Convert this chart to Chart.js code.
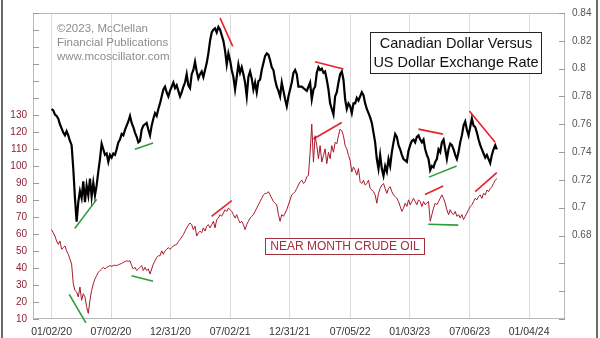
<!DOCTYPE html>
<html>
<head>
<meta charset="utf-8">
<script src="https://cdn.jsdelivr.net/npm/chart.js@4"></script>
<style>
    body { margin: 0; background: #fff; }
    canvas { display: block; }
</style>
</head>
<body>
<canvas id="chart" width="600" height="338"></canvas>
<script>
// dates on the x axis are counted in days after 01/02/20
const tickLabels = ['01/02/20', '07/02/20', '12/31/20', '07/02/21', '12/31/21', '07/05/22', '01/03/23', '07/06/23', '01/04/24'];
const seriesStartDay = 0;
const stepDays = 5.11; // spacing of the samples below

// CAD in USD (right axis)
const cadValues = [
    0.771, 0.770, 0.767, 0.766, 0.764, 0.760, 0.757, 0.754, 0.752, 0.755,
    0.752, 0.748, 0.745, 0.728, 0.707, 0.690, 0.704, 0.712, 0.707, 0.719,
    0.704, 0.716, 0.709, 0.721, 0.708, 0.718, 0.709, 0.716, 0.726, 0.735,
    0.746, 0.742, 0.738, 0.739, 0.733, 0.738, 0.736, 0.739, 0.738, 0.742,
    0.747, 0.749, 0.753, 0.752, 0.756, 0.759, 0.762, 0.766, 0.761, 0.758,
    0.754, 0.751, 0.747, 0.748, 0.756, 0.759, 0.760, 0.761, 0.756, 0.752,
    0.759, 0.764, 0.768, 0.766, 0.771, 0.775, 0.780, 0.785, 0.787, 0.783,
    0.780,
    0.784, 0.787, 0.790, 0.786, 0.788, 0.784, 0.780, 0.783, 0.787, 0.790,
    0.796, 0.788, 0.786, 0.796, 0.799, 0.805, 0.798, 0.793, 0.796, 0.798,
    0.794, 0.799, 0.804, 0.811, 0.820, 0.826, 0.828, 0.829, 0.826, 0.830,
    0.828, 0.824, 0.820, 0.813, 0.803, 0.811, 0.806, 0.799, 0.794, 0.785,
    0.794, 0.803, 0.797, 0.801, 0.796, 0.790, 0.780, 0.794, 0.798, 0.793,
    0.785, 0.790, 0.783, 0.791, 0.792, 0.799, 0.804, 0.809, 0.811, 0.810,
    0.806, 0.801, 0.799, 0.792, 0.787, 0.784, 0.780, 0.790, 0.784, 0.778,
    0.773, 0.780, 0.785, 0.790, 0.797, 0.799, 0.796, 0.787,
    0.787, 0.787, 0.786, 0.785, 0.784, 0.787, 0.790, 0.778, 0.785, 0.787,
    0.797, 0.801, 0.799, 0.800, 0.797, 0.798, 0.792, 0.785, 0.775, 0.771,
    0.767, 0.780, 0.783, 0.790, 0.796, 0.798, 0.792, 0.778, 0.771, 0.775,
    0.773, 0.768, 0.775, 0.775, 0.779, 0.777, 0.780, 0.783, 0.781, 0.775,
    0.771, 0.768, 0.765, 0.761, 0.754, 0.747, 0.735, 0.728, 0.738, 0.728,
    0.723, 0.730, 0.726, 0.735, 0.730, 0.740, 0.747, 0.753, 0.751, 0.745,
    0.742, 0.738, 0.735, 0.734, 0.733, 0.741, 0.745, 0.748, 0.749, 0.747,
    0.751, 0.752, 0.749, 0.747, 0.749, 0.742, 0.738, 0.735,
    0.727, 0.730, 0.729, 0.733, 0.735, 0.742, 0.740, 0.747, 0.749, 0.742,
    0.735, 0.742, 0.746, 0.745, 0.742, 0.738, 0.735, 0.740, 0.747, 0.752,
    0.759, 0.762, 0.756, 0.752, 0.758, 0.764, 0.759, 0.758, 0.754, 0.749,
    0.745, 0.742, 0.739, 0.736, 0.738, 0.735, 0.732, 0.738, 0.742, 0.745,
    0.742
];

// near month crude oil, $ (left axis)
const oilValues = [
    62.6, 60.7, 58.8, 55.9, 53.9, 55.9, 51.0, 52.0, 53.0, 50.1,
    48.1, 45.2, 42.3, 30.7, 26.8, 25.9, 23.0, 28.8, 21.0, 24.9,
    23.0, 17.2, 13.3, 21.0, 26.8, 30.7, 33.6, 35.5, 37.5, 38.5,
    39.4, 40.4, 39.4, 40.4, 40.8, 41.4, 41.0, 41.4, 41.7, 41.4,
    41.9, 42.3, 42.7, 43.3, 43.7, 44.3, 43.9, 44.3, 41.4, 39.4,
    40.4, 38.5, 39.4, 40.4, 41.4, 38.5, 40.4, 38.5, 39.4, 36.5,
    39.4, 42.3, 44.3, 46.2, 47.2, 47.2, 50.1, 48.1, 50.1, 51.0,
    52.0,
    51.0, 52.0, 53.0, 53.5, 53.9, 55.5, 56.8, 58.2, 59.7, 61.7,
    63.6, 65.2, 66.5, 65.5, 62.6, 64.6, 58.8, 60.7, 61.7, 60.7,
    63.6, 61.7, 64.6, 65.5, 63.6, 65.5, 67.5, 63.6, 68.5, 69.4,
    71.4, 70.4, 72.3, 74.3, 73.3, 75.2, 74.3, 73.3, 71.4, 69.4,
    71.4, 68.5, 66.5, 67.5, 65.5, 62.6, 65.5, 67.5, 69.4, 70.4,
    71.4, 73.3, 75.2, 77.2, 79.1, 81.0, 83.0, 83.9, 83.9, 84.9,
    83.0, 81.0, 79.1, 78.1, 77.2, 71.4, 67.5, 71.4, 70.4, 72.3,
    74.3, 77.2, 80.1, 83.0, 83.9, 84.9, 86.8, 88.8,
    90.7, 91.7, 89.7, 90.7, 93.6, 94.6, 108.1, 124.6, 102.3, 117.8,
    112.0, 104.3, 112.0, 102.3, 106.2, 110.1, 101.4, 108.1, 104.3, 112.0,
    108.1, 113.9, 113.0, 117.8, 121.7, 120.7, 117.8, 112.0, 110.1, 106.2,
    103.3, 96.5, 99.4, 97.5, 94.6, 98.5, 90.7, 89.7, 91.7, 88.8,
    89.7, 91.7, 86.8, 85.9, 84.9, 83.0, 78.1, 83.9, 86.8, 88.8,
    89.7, 86.8, 83.9, 86.8, 87.8, 84.9, 83.0, 82.0, 81.0, 79.1,
    76.2, 73.3, 75.2, 78.1, 76.2, 80.1, 77.2, 79.1, 81.0, 79.1,
    77.2, 80.1, 79.1, 76.2, 79.1, 77.2, 78.1, 79.1,
    67.5, 71.4, 75.2, 78.1, 77.2, 79.1, 81.0, 83.0, 81.0, 78.1,
    74.3, 71.4, 74.3, 72.3, 71.4, 73.3, 70.4, 71.4, 69.4, 71.4,
    68.5, 70.4, 72.3, 74.3, 76.2, 77.2, 79.1, 81.0, 80.1, 82.0,
    83.0, 81.0, 83.9, 83.0, 85.9, 84.9, 86.8, 87.8, 89.7, 91.7,
    92.6
];

// divergence marks: [axis, startDay, startValue, endDay, endValue]
const greenMarks = [
    ['cad', 71, 0.685, 138, 0.706],
    ['oil', 54, 24.5, 105, 7.7],
    ['cad', 255, 0.742, 311, 0.7465],
    ['oil', 245, 35.5, 311, 32.2],
    ['cad', 1156, 0.722, 1241, 0.730],
    ['oil', 1154, 65.7, 1246, 65.2]
];
const redMarks = [
    ['cad', 516, 0.8365, 555, 0.816],
    ['oil', 490, 70.4, 552, 79.7],
    ['cad', 807, 0.805, 894, 0.7998],
    ['oil', 802, 115.9, 889, 125.6],
    ['cad', 1124, 0.7565, 1199, 0.7529],
    ['oil', 1144, 83.2, 1200, 88.2],
    ['cad', 1280, 0.7695, 1359, 0.747],
    ['oil', 1298, 84.9, 1364, 96.1]
];

const titleLines = ['Canadian Dollar Versus', 'US Dollar Exchange Rate'];
const creditLines = ['\u00a92023, McClellan', 'Financial Publications', 'www.mcoscillator.com'];
const oilLabel = 'NEAR MONTH CRUDE OIL';

const FONT = "'Liberation Sans', Arial, sans-serif";
const day0 = Date.UTC(2020, 0, 2);
function dayOf(label) {
    const [m, d, y] = label.split('/').map(Number);
    return Math.round((Date.UTC(2000 + y, m - 1, d) - day0) / 86400000);
}
const tickDays = tickLabels.map(dayOf);

function toPoints(values) {
    return values.map((v, i) => ({ x: seriesStartDay + i * stepDays, y: v }));
}

function markSets(marks, color) {
    return marks.map(m => ({
        data: [{ x: m[1], y: m[2] }, { x: m[3], y: m[4] }],
        yAxisID: m[0],
        borderColor: color,
        borderWidth: 1.6,
        pointRadius: 0,
        clip: false
    }));
}

const framePlugin = {
    id: 'frame',
    beforeDatasetsDraw(chart) {
        const { ctx, chartArea: a } = chart;
        ctx.save();
        ctx.strokeStyle = '#b8b8b8';
        ctx.lineWidth = 1;
        ctx.strokeRect(a.left + 0.5, a.top + 0.5, a.right - a.left - 1, a.bottom - a.top - 1);
        // tick marks drawn inside the plot
        ctx.strokeStyle = '#9a9a9a';
        ctx.beginPath();
        chart.scales.oil.ticks.forEach(t => {
            const y = Math.round(chart.scales.oil.getPixelForValue(t.value)) + 0.5;
            ctx.moveTo(a.left, y);
            ctx.lineTo(a.left + 6, y);
        });
        chart.scales.cad.ticks.forEach(t => {
            const y = Math.round(chart.scales.cad.getPixelForValue(t.value)) + 0.5;
            ctx.moveTo(a.right - 6, y);
            ctx.lineTo(a.right, y);
        });
        ctx.stroke();
        ctx.restore();
    },
    afterDraw(chart) {
        const ctx = chart.ctx;
        ctx.save();
        // outer frame
        ctx.fillStyle = '#6a6a6a';
        ctx.fillRect(1, 0, 2, 338);
        ctx.fillRect(596, 0, 2, 338);

        // credit text
        ctx.fillStyle = '#8c8c8c';
        ctx.font = '11.5px ' + FONT;
        ctx.textBaseline = 'middle';
        ctx.textAlign = 'left';
        creditLines.forEach((s, i) => ctx.fillText(s, 57, 29 + i * 14));

        // title box
        ctx.fillStyle = '#fff';
        ctx.fillRect(370, 32, 172, 42);
        ctx.strokeStyle = '#222';
        ctx.lineWidth = 1;
        ctx.strokeRect(370.5, 32.5, 171, 41);
        ctx.fillStyle = '#111';
        ctx.font = '14.5px ' + FONT;
        ctx.textAlign = 'center';
        titleLines.forEach((s, i) => ctx.fillText(s, 456, 44 + i * 19));

        // crude oil label
        ctx.fillStyle = '#fff';
        ctx.fillRect(265, 238, 160, 17);
        ctx.strokeStyle = '#a0303c';
        ctx.strokeRect(265.5, 238.5, 159, 16);
        ctx.fillStyle = '#a0303c';
        ctx.font = '12px ' + FONT;
        ctx.fillText(oilLabel, 345, 247);
        ctx.restore();
    }
};

const ctx = document.getElementById('chart').getContext('2d');
new Chart(ctx, {
    type: 'line',
    data: {
        datasets: [
            {
                data: toPoints(oilValues),
                yAxisID: 'oil',
                borderColor: '#a8182a',
                borderWidth: 1,
                pointRadius: 0
            },
            {
                data: toPoints(cadValues),
                yAxisID: 'cad',
                borderColor: '#000',
                borderWidth: 2.2,
                pointRadius: 0
            },
            ...markSets(greenMarks, '#2e9e3a'),
            ...markSets(redMarks, '#e8202a')
        ]
    },
    options: {
        responsive: false,
        animation: false,
        events: [],
        layout: { padding: { top: 9 } },
        plugins: {
            legend: { display: false },
            tooltip: { enabled: false }
        },
        scales: {
            x: {
                type: 'linear',
                min: -57,
                max: 1573,
                afterBuildTicks: s => { s.ticks = tickDays.map(v => ({ value: v })); },
                afterFit: s => { s.height = 19; },
                ticks: {
                    autoSkip: false,
                    maxRotation: 0,
                    padding: 7,
                    color: '#333',
                    font: { family: FONT, size: 10.5 },
                    callback: (v, i) => tickLabels[i]
                },
                grid: { color: '#dcdcdc', drawTicks: false },
                border: { display: false }
            },
            oil: {
                position: 'left',
                min: 10,
                max: 190,
                afterFit: s => { s.width = 33; },
                ticks: {
                    stepSize: 10,
                    padding: 6,
                    color: '#8b2232',
                    font: { family: FONT, size: 10 },
                    callback: v => (v <= 130 ? v : '')
                },
                grid: { display: false, drawTicks: false },
                border: { display: false }
            },
            cad: {
                position: 'right',
                min: 0.62,
                max: 0.84,
                afterFit: s => { s.width = 35; },
                ticks: {
                    stepSize: 0.02,
                    padding: 7,
                    color: '#555',
                    font: { family: FONT, size: 10 },
                    callback: v => (v >= 0.675 ? String(+v.toFixed(2)) : '')
                },
                grid: { display: false, drawTicks: false },
                border: { display: false }
            }
        }
    },
    plugins: [framePlugin]
});
</script>
</body>
</html>
